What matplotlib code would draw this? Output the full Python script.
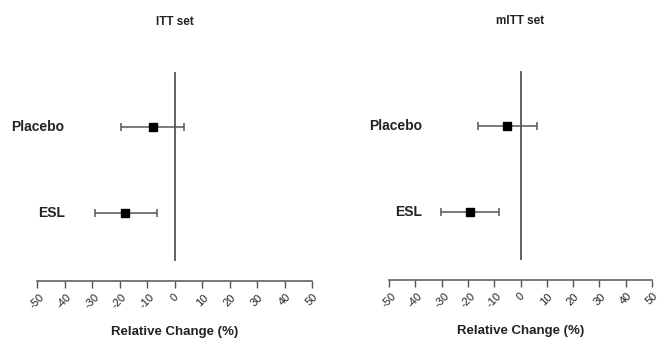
import matplotlib.pyplot as plt

plt.rcParams['font.family'] = ['Liberation Sans', 'DejaVu Sans']

# data
panels = ['ITT set', 'mITT set']
groups = ['Placebo', 'ESL']
est = [[-8.0, -18.0], [-5.0, -19.3]]
lower = [[-19.5, -29.0], [-16.0, -30.3]]
upper = [[3.5, -6.2], [6.2, -8.0]]
ticks = [-50, -40, -30, -20, -10, 0, 10, 20, 30, 40, 50]

grp_y = [2, 1]
label_x = [-40, -37.5]
lc = '#555555'

fig = plt.figure(figsize=(6.63, 3.39), dpi=100)
axes = [fig.add_axes([37 / 663, 58 / 339, 275 / 663, 240 / 339]),
        fig.add_axes([389 / 663, 59 / 339, 263 / 663, 240 / 339])]

for k, ax in enumerate(axes):
    e = est[k]
    xerr = [[e[i] - lower[k][i] for i in range(2)], [upper[k][i] - e[i] for i in range(2)]]
    ax.errorbar(e, grp_y, xerr=xerr, fmt='s', color=lc, ecolor=lc, elinewidth=1.1,
                capsize=3, capthick=1.1, markersize=6, markerfacecolor='black',
                markeredgecolor='black', zorder=3)
    ax.plot([0, 0], [0.45, 2.63], color=lc, lw=1.3, zorder=2)  # line of no change
    for i, g in enumerate(groups):
        ax.text(label_x[k], grp_y[i], g, ha='right', va='center', fontsize=10,
                fontweight='bold', color='#222222')
    ax.set_xlim(-50, 50)
    ax.set_ylim(0.21, 3.0)
    ax.set_xticks(ticks)
    ax.set_xticklabels([str(t) for t in ticks], rotation=45, ha='center', va='top',
                       fontsize=8, color='#222222')
    ax.tick_params(axis='x', length=5, width=1, color=lc, pad=3)
    ax.set_yticks([])
    for s in ['top', 'left', 'right']:
        ax.spines[s].set_visible(False)
    ax.spines['bottom'].set_color(lc)
    ax.spines['bottom'].set_linewidth(1.1)
    ax.set_xlabel('Relative Change (%)', fontsize=9.5, fontweight='bold',
                  color='#222222', labelpad=11)
    ax.set_title(panels[k], fontsize=8.5, fontweight='bold', color='#222222', pad=0, y=1.065)

fig.savefig('out.png', dpi=100)
